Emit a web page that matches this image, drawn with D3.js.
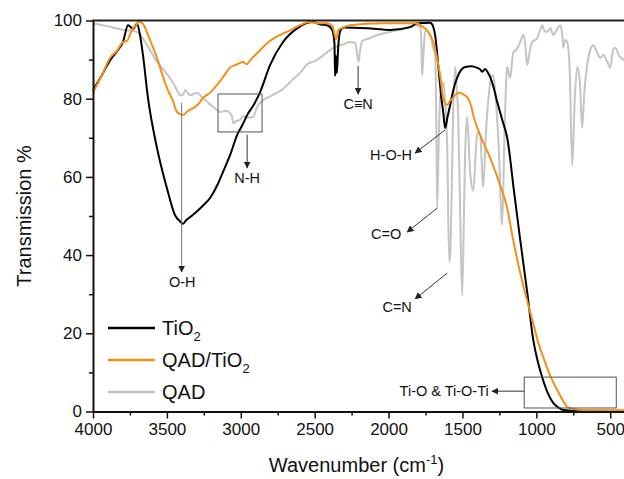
<!DOCTYPE html>
<html>
<head>
<meta charset="utf-8">
<script src="https://cdn.jsdelivr.net/npm/d3@7"></script>
<style>
  body { margin: 0; background: #fff; }
  svg { font-family: "Liberation Sans", Arial, sans-serif; }
</style>
</head>
<body>
<div id="chart"></div>
<script>
// Spectra as [wavenumber (cm-1), transmission %]
const tio2 = [
  [4000, 82.2], [3940, 86], [3885, 89.8], [3840, 92], [3797, 94.5], [3763, 98.8], [3745, 98.3],
  [3729, 97.8], [3702, 99.2], [3682, 96.3], [3662, 91.2], [3628, 80.2], [3567, 67.4],
  [3499, 57.0], [3445, 50.2], [3410, 48.6], [3391, 48.0], [3370, 48.9], [3323, 50.3],
  [3260, 52.5], [3208, 54.6], [3160, 57.8], [3120, 61.3], [3070, 65.8], [3025, 70.7],
  [2990, 73.2], [2957, 75.8], [2910, 78.6], [2869, 81.7], [2802, 88.6], [2714, 94.5],
  [2619, 98.0], [2518, 99.6], [2460, 99.0], [2416, 98.8], [2380, 97.5], [2366, 94],
  [2362, 85.8], [2357, 91], [2350, 86.5], [2341, 93], [2325, 97.5], [2300, 98.2],
  [2145, 98.0], [1989, 97.6], [1854, 98.3], [1807, 99.3], [1718, 99.4], [1700, 98.6],
  [1685, 96.3], [1664, 88.6], [1645, 81], [1630, 76.5], [1617, 72.5], [1600, 75.5],
  [1583, 78.4], [1560, 82.5], [1536, 85.3], [1510, 87.3], [1482, 88.1], [1440, 88.3],
  [1400, 87.9], [1380, 87.5], [1366, 86.9], [1346, 87.6], [1330, 86.8], [1312, 85.5],
  [1290, 83], [1265, 79.2], [1230, 74.5], [1197, 70.0], [1150, 56], [1109, 43.9],
  [1060, 30], [1021, 18.3], [985, 12], [954, 8.0], [920, 4.5], [886, 2.2], [850, 1.0],
  [818, 0.4], [700, 0.1], [400, 0.1]
];

const qadTio2 = [
  [4000, 81.6], [3940, 86], [3885, 90.4], [3840, 92.2], [3797, 94.5], [3770, 94.8],
  [3750, 96.3], [3729, 98.1], [3710, 98.6], [3695, 99.6], [3668, 99.4], [3648, 98.2],
  [3628, 96.3], [3567, 90.4], [3499, 82.7], [3460, 79.5], [3431, 76.6], [3391, 75.8],
  [3360, 76.8], [3323, 77.6], [3290, 78.5], [3255, 80.2], [3200, 81.8], [3161, 83.5],
  [3120, 85.5], [3073, 87.9], [3030, 88.7], [2985, 89.4], [2960, 88.8], [2937, 89.8],
  [2880, 92], [2822, 94.2], [2740, 96.2], [2666, 97.5], [2600, 98.8], [2531, 99.6],
  [2470, 99.3], [2416, 99.3], [2380, 98.6], [2365, 96.5], [2355, 95.2], [2341, 97.5],
  [2314, 98.1], [2260, 98.8], [2037, 99.3], [1807, 99.3], [1786, 98.8], [1740, 97.5],
  [1698, 94.5], [1670, 90], [1651, 86.0], [1630, 80.2], [1603, 78.4], [1583, 79.5],
  [1563, 80.2], [1540, 81.3], [1515, 81.5], [1490, 81], [1468, 80.4], [1440, 78],
  [1427, 75.8], [1380, 70.7], [1312, 64.8], [1245, 57.9], [1197, 52.0], [1157, 43.9],
  [1100, 34], [1060, 28], [1021, 22.6], [990, 18], [954, 14.0], [910, 9.5], [859, 5.5],
  [820, 2.8], [791, 1.2], [740, 0.6], [683, 0.4], [400, 0.3]
];

const qad = [
  [4000, 99.3], [3900, 98.5], [3797, 97.6], [3702, 97.1], [3670, 95.8], [3634, 93.7],
  [3567, 89.4], [3520, 87.3], [3479, 85.3], [3440, 82.8], [3425, 81.7], [3405, 80.8],
  [3391, 81.0], [3375, 82.2], [3364, 81.7], [3343, 80.9], [3320, 81.2], [3296, 81.5],
  [3260, 80.3], [3228, 79.2], [3190, 78.0], [3161, 77.1], [3140, 76.6], [3100, 76.9],
  [3073, 76.3], [3060, 75.5], [3052, 73.8], [3030, 74.3], [3005, 74.6], [2980, 75.6],
  [2957, 75.1], [2917, 75.3], [2890, 77.8], [2849, 79.7], [2810, 80.4], [2781, 81.0],
  [2714, 82.5], [2646, 85.0], [2599, 86.6], [2551, 88.8], [2500, 89.6], [2463, 90.5],
  [2420, 91.8], [2375, 93.0], [2300, 94.0], [2260, 94.5], [2225, 94.2], [2213, 91.5],
  [2203, 89.4], [2192, 92.5], [2179, 94.7], [2120, 95.6], [2077, 96.3], [1989, 97.1],
  [1874, 98.1], [1820, 98.8], [1786, 98.3], [1778, 94], [1773, 86.0], [1766, 90],
  [1752, 97.5], [1718, 96.3], [1698, 93.0], [1685, 91.0], [1676, 72], [1671, 52.0],
  [1660, 70], [1651, 80.2], [1630, 84.3], [1615, 78], [1603, 67.4], [1590, 38.3],
  [1583, 40.0], [1570, 62], [1563, 76.0], [1549, 88.1], [1538, 82], [1529, 76.0],
  [1515, 50], [1502, 29.8], [1490, 50], [1482, 65.6], [1468, 75.3], [1448, 61.3],
  [1427, 56.5], [1410, 66], [1400, 71.2], [1380, 70.7], [1370, 64], [1360, 57.4],
  [1340, 72], [1312, 84.0], [1295, 86], [1278, 82.0], [1255, 68], [1231, 47.7],
  [1215, 72], [1197, 88.1], [1177, 85.3], [1157, 91.7], [1130, 92.8], [1109, 94.5],
  [1089, 96.3], [1075, 94], [1062, 88.6], [1045, 92], [1028, 94.5], [994, 95.5],
  [975, 97.5], [960, 98.8], [945, 97.3], [926, 97.1], [905, 98], [886, 96.3],
  [860, 97.8], [838, 98.8], [825, 96.5], [818, 93.0], [805, 95], [791, 94.5],
  [775, 88], [757, 63.0], [740, 80], [723, 88.1], [705, 84], [690, 72.5], [675, 82],
  [656, 88.6], [635, 92.5], [615, 93.7], [590, 92], [568, 90.4], [545, 91.2],
  [520, 89.5], [500, 87.9], [480, 92.5], [466, 93.0], [440, 91], [420, 90.2], [405, 89.9]
];

const xTickValues = [4000, 3500, 3000, 2500, 2000, 1500, 1000, 500];
const xMinorValues = [3750, 3250, 2750, 2250, 1750, 1250, 750];
const yTickValues = [0, 20, 40, 60, 80, 100];
const yMinorValues = [10, 30, 50, 70, 90];

const seriesNames = ["TiO2", "QAD/TiO2", "QAD"];
const seriesColors = ["#000000", "#f39019", "#c4c4c4"];

// Dimensions of the plot frame (pixels)
const W = 624, H = 479;
const plotL = 93, plotR = 625, plotT = 20.5, plotB = 411.5;

const svg = d3.select("#chart")
  .append("svg")
  .attr("width", W)
  .attr("height", H);

const x = d3.scaleLinear().domain([4000, 400]).range([plotL, plotR]);
const y = d3.scaleLinear().domain([0, 100]).range([plotB, plotT]);

// Lines: grey first, then black, then orange on top
const line = d3.line()
  .x(d => x(d[0]))
  .y(d => y(d[1]))
  .curve(d3.curveMonotoneX);

const plot = svg.append("g");
[[qad, 2], [tio2, 0], [qadTio2, 1]].forEach(([data, i]) => {
  plot.append("path")
    .datum(data)
    .attr("fill", "none")
    .attr("stroke", seriesColors[i])
    .attr("stroke-width", 2)
    .attr("stroke-linejoin", "round")
    .attr("d", line);
});

// Axes
svg.append("g")
  .attr("transform", `translate(0,${plotB})`)
  .call(d3.axisBottom(x).tickValues(xTickValues).tickFormat(d3.format("d"))
    .tickSize(7).tickSizeOuter(0).tickPadding(4));
svg.append("g")
  .attr("transform", `translate(0,${plotB})`)
  .call(d3.axisBottom(x).tickValues(xMinorValues).tickSize(4).tickSizeOuter(0).tickFormat(""))
  .call(g => g.select(".domain").remove());

svg.append("g")
  .attr("transform", `translate(${plotL},0)`)
  .call(d3.axisLeft(y).tickValues(yTickValues).tickSize(7).tickSizeOuter(0).tickPadding(4));
svg.append("g")
  .attr("transform", `translate(${plotL},0)`)
  .call(d3.axisLeft(y).tickValues(yMinorValues).tickSize(4).tickSizeOuter(0).tickFormat(""))
  .call(g => g.select(".domain").remove());

svg.selectAll(".domain").attr("stroke-width", 2).attr("stroke", "#111");
svg.selectAll(".tick line").attr("stroke-width", 1.5).attr("stroke", "#111");
svg.selectAll(".tick text").attr("font-size", 17).attr("fill", "#111")
  .attr("font-family", "'Liberation Sans', Arial, sans-serif");

// top frame line
svg.append("line")
  .attr("x1", plotL - 1).attr("x2", W)
  .attr("y1", plotT).attr("y2", plotT)
  .attr("stroke", "#222").attr("stroke-width", 2);

// Axis titles
svg.append("text")
  .attr("transform", `translate(31,${(plotT + plotB) / 2}) rotate(-90)`)
  .attr("text-anchor", "middle")
  .attr("font-size", 20)
  .attr("fill", "#111")
  .text("Transmission %");

const xt = svg.append("text")
  .attr("x", (plotL + W) / 2 - 2)
  .attr("y", 472)
  .attr("text-anchor", "middle")
  .attr("font-size", 20)
  .attr("fill", "#111");
xt.append("tspan").text("Wavenumber (cm");
xt.append("tspan").attr("font-size", 13).attr("dy", -8).text("-1");
xt.append("tspan").attr("dy", 8).text(")");

// Legend
const legend = svg.append("g");
[0, 1, 2].forEach(i => {
  const ly = 328 + i * 32;
  legend.append("line")
    .attr("x1", 108).attr("x2", 155)
    .attr("y1", ly).attr("y2", ly)
    .attr("stroke", seriesColors[i]).attr("stroke-width", 2.5);
  const t = legend.append("text")
    .attr("x", 162).attr("y", ly + 7)
    .attr("font-size", 20).attr("fill", "#111");
  const name = seriesNames[i];
  if (name.endsWith("2")) {
    t.append("tspan").text(name.slice(0, -1));
    t.append("tspan").attr("font-size", 13).attr("dy", 6).text("2");
  } else {
    t.text(name);
  }
});

// Annotations (data units)
const defs = svg.append("defs");
defs.append("marker")
  .attr("id", "arr")
  .attr("viewBox", "0 0 10 10")
  .attr("refX", 9).attr("refY", 5)
  .attr("markerWidth", 7).attr("markerHeight", 7)
  .attr("markerUnits", "userSpaceOnUse")
  .attr("orient", "auto")
  .append("path")
  .attr("d", "M0,0 L10,5 L0,10 Z")
  .attr("fill", "#222");

const arrows = [
  { from: [3400, 79], to: [3400, 35.7] },
  { from: [2957, 70.8], to: [2957, 62.3] },
  { from: [2206, 88.4], to: [2206, 81.2] },
  { from: [1617, 72], to: [1820, 66.1] },
  { from: [1671, 52], to: [1874, 45.9] },
  { from: [1603, 35.4], to: [1820, 28.8] },
  { from: [1082, 5.2], to: [1299, 5.2] }
];
arrows.forEach(a => {
  svg.append("line")
    .attr("x1", x(a.from[0])).attr("y1", y(a.from[1]))
    .attr("x2", x(a.to[0])).attr("y2", y(a.to[1]))
    .attr("stroke", a.from[0] === 3400 ? "#777" : "#333")
    .attr("stroke-width", 1)
    .attr("marker-end", "url(#arr)");
});

const boxes = [
  { x0: 3154, x1: 2856, y0: 81.2, y1: 71.5 },
  { x0: 1082, x1: 459, y0: 8.8, y1: 0.9 }
];
boxes.forEach(b => {
  svg.append("rect")
    .attr("x", x(b.x0)).attr("y", y(b.y0))
    .attr("width", x(b.x1) - x(b.x0))
    .attr("height", y(b.y1) - y(b.y0))
    .attr("fill", "none").attr("stroke", "#555").attr("stroke-width", 1);
});

const labels = [
  { text: "O-H", at: [3396, 33.0], anchor: "middle" },
  { text: "N-H", at: [2957, 59.7], anchor: "middle" },
  { text: "C\u2261N", at: [2206, 78.6], anchor: "middle" },
  { text: "H-O-H", at: [1983, 65.6], anchor: "middle" },
  { text: "C=O", at: [2016, 45.4], anchor: "middle" },
  { text: "C=N", at: [1942, 26.7], anchor: "middle" },
  { text: "Ti-O & Ti-O-Ti", at: [1322, 5.2], anchor: "end" }
];
labels.forEach(l => {
  svg.append("text")
    .attr("x", x(l.at[0])).attr("y", y(l.at[1]) + 5)
    .attr("text-anchor", l.anchor)
    .attr("font-size", 14.5).attr("fill", "#111")
    .text(l.text);
});
</script>
</body>
</html>
